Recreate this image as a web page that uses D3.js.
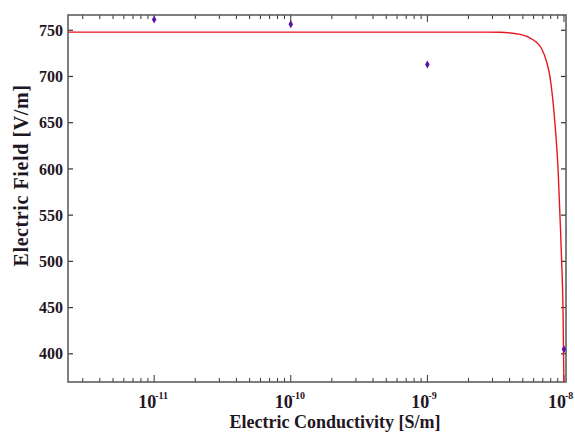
<!DOCTYPE html>
<html>
<head>
<meta charset="utf-8">
<script src="https://cdn.jsdelivr.net/npm/d3@7"></script>
<style>
  body { margin: 0; background: #fff; }
  svg text { font-family: "Liberation Serif", "DejaVu Serif", serif; font-weight: bold; fill: #1f1624; }
</style>
</head>
<body>
<div id="chart"></div>
<script>
// measured points (conductivity S/m, field V/m)
var meas_sigma = [1e-11, 1e-10, 1e-9, 1e-8];
var meas_field = [761.5, 756.5, 713, 405];

// model curve
var curve_sigma = [2.34e-12, 1e-11, 1e-10, 1e-9, 2.43e-9, 3.39e-9, 4.79e-9, 5.89e-9, 6.5e-9, 6.86e-9,
                   7.46e-9, 7.89e-9, 8.26e-9, 8.57e-9, 8.83e-9, 9.06e-9, 9.44e-9, 9.59e-9,
                   9.86e-9, 1.0e-8];
var curve_field = [748, 748, 748, 748, 748, 747.8, 745.5, 740, 735, 730,
                   716, 700, 677, 651, 626, 599, 534, 505,
                   440, 360];

var x_ticks = [1e-11, 1e-10, 1e-9, 1e-8];
var x_tick_exp = ["-11", "-10", "-9", "-8"];
var y_ticks = [400, 450, 500, 550, 600, 650, 700, 750];

var W = 575, H = 435;
var margin = {top: 15, right: 9, bottom: 53, left: 68},
    width = W - margin.left - margin.right,
    height = H - margin.top - margin.bottom;

var svg = d3.select("#chart").append("svg")
    .attr("width", W).attr("height", H);
var g = svg.append("g")
    .attr("transform", "translate(" + margin.left + "," + margin.top + ")");

var x = d3.scaleLog().domain([2.34e-12, 1.035e-8]).range([0, width]);
var y = d3.scaleLinear().domain([369.5, 766.5]).range([height, 0]);

g.append("clipPath").attr("id", "clip")
  .append("rect").attr("width", width).attr("height", height);

// minor ticks on log axis
var minor = [];
[-12, -11, -10, -9].forEach(function(e) {
  for (var k = 2; k <= 9; k++) {
    var v = k * Math.pow(10, e);
    if (v >= x.domain()[0] && v <= x.domain()[1]) minor.push(v);
  }
});

var tickCol = "#333";
// bottom & top ticks (inward)
[height, 0].forEach(function(yy) {
  var dir = yy === 0 ? 1 : -1;
  g.selectAll(null).data(minor).enter().append("line")
    .attr("x1", d => x(d)).attr("x2", d => x(d))
    .attr("y1", yy).attr("y2", yy + dir * 4)
    .attr("stroke", tickCol).attr("stroke-width", 1);
  g.selectAll(null).data(x_ticks).enter().append("line")
    .attr("x1", d => x(d)).attr("x2", d => x(d))
    .attr("y1", yy).attr("y2", yy + dir * 7)
    .attr("stroke", tickCol).attr("stroke-width", 1);
});
// left & right ticks (inward)
[0, width].forEach(function(xx) {
  var dir = xx === 0 ? 1 : -1;
  g.selectAll(null).data(y_ticks).enter().append("line")
    .attr("x1", xx).attr("x2", xx + dir * 5)
    .attr("y1", d => y(d)).attr("y2", d => y(d))
    .attr("stroke", tickCol).attr("stroke-width", 1.2);
});

// frame
g.append("rect").attr("width", width).attr("height", height)
  .attr("fill", "none").attr("stroke", "#555").attr("stroke-width", 1.5);

// y tick labels
g.selectAll(null).data(y_ticks).enter().append("text")
  .attr("x", -5).attr("y", d => y(d)).attr("dy", "0.35em")
  .attr("text-anchor", "end").style("font-size", "16px")
  .text(d => d);

// x tick labels 10^n
x_ticks.forEach(function(d, i) {
  var t = g.append("text")
    .attr("x", x(d) - 16).attr("y", height + 26)
    .style("font-size", "18px");
  t.append("tspan").text("10");
  t.append("tspan").attr("dy", -9).attr("dx", -1).style("font-size", "10px").text(x_tick_exp[i]);
});

// axis titles
g.append("text")
  .attr("x", 267).attr("y", height + 46)
  .attr("text-anchor", "middle").style("font-size", "18px")
  .text("Electric Conductivity [S/m]");
svg.append("text")
  .attr("transform", "translate(28,175.5)rotate(-90)")
  .attr("text-anchor", "middle").style("font-size", "20px")
  .style("letter-spacing", "0.6px")
  .text("Electric Field [V/m]");

// model curve
var line = d3.line()
  .x((d, i) => x(curve_sigma[i]))
  .y(d => y(d))
  .curve(d3.curveMonotoneX);
g.append("path").datum(curve_field)
  .attr("clip-path", "url(#clip)")
  .attr("d", line)
  .attr("fill", "none").attr("stroke", "#e8161e").attr("stroke-width", 1.4);

// measured points (diamonds)
var diamond = d3.symbol().type(d3.symbolDiamond).size(18);
g.selectAll(null).data(meas_field).enter().append("path")
  .attr("d", diamond)
  .attr("transform", (d, i) => "translate(" + x(meas_sigma[i]) + "," + y(d) + ")")
  .attr("fill", "#5a12a8");
</script>
</body>
</html>
